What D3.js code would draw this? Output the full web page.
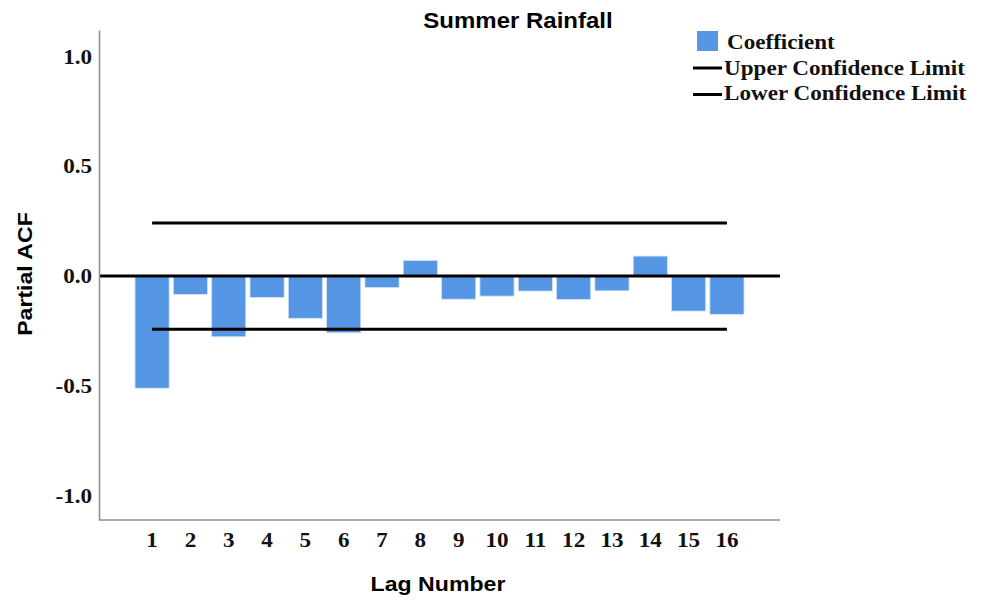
<!DOCTYPE html>
<html>
<head>
<meta charset="utf-8">
<script src="https://cdn.jsdelivr.net/npm/d3@7"></script>
<style>
  html, body { margin: 0; padding: 0; background: #fff; }
  svg { display: block; }
</style>
</head>
<body>
<svg id="chart" width="988" height="600"></svg>
<script>
// Partial autocorrelation of summer rainfall, lags 1-16
const lags = [1, 2, 3, 4, 5, 6, 7, 8, 9, 10, 11, 12, 13, 14, 15, 16];
const pacf = [-0.51, -0.083, -0.276, -0.097, -0.192, -0.258, -0.052, 0.071,
              -0.105, -0.091, -0.068, -0.106, -0.067, 0.091, -0.159, -0.174];
const upperLimit = 0.242;
const lowerLimit = -0.242;
const yTicks = [-1.0, -0.5, 0.0, 0.5, 1.0];
const legendItems = ["Coefficient", "Upper Confidence Limit", "Lower Confidence Limit"];

const svg = d3.select("#chart");
const plotLeft = 99, plotRight = 780, plotTop = 30, plotBottom = 520;
const barColor = "#5596e5";
const serif = "'Liberation Serif', 'Times New Roman', serif";
const sans = "'Liberation Sans', Arial, sans-serif";
const widen = 1.1; // text is set slightly wide

// stretch each text horizontally by the given factor
function stretch(sel, k) {
  sel.each(function () {
    const w = this.getComputedTextLength();
    d3.select(this).attr("textLength", w * k).attr("lengthAdjust", "spacingAndGlyphs");
  });
}

const x = d3.scaleBand()
  .domain(lags)
  .range([plotLeft, plotRight])
  .paddingInner(0.11)
  .paddingOuter(0.94);

const y = d3.scaleLinear()
  .domain([-1.11, 1.12])
  .range([plotBottom, plotTop]);

// Bars
svg.append("g")
  .selectAll("rect")
  .data(lags.map((l, i) => ({ lag: l, v: pacf[i] })))
  .join("rect")
  .attr("x", d => x(d.lag))
  .attr("width", x.bandwidth())
  .attr("y", d => y(Math.max(0, d.v)))
  .attr("height", d => Math.abs(y(d.v) - y(0)))
  .attr("fill", barColor)
  .attr("stroke", "#cfe0f7")
  .attr("stroke-width", 0.8);

// Confidence limits span lag 1 to lag 16
const cx = l => x(l) + x.bandwidth() / 2;
[upperLimit, lowerLimit].forEach(v => {
  svg.append("line")
    .attr("x1", cx(lags[0])).attr("x2", cx(lags[lags.length - 1]))
    .attr("y1", y(v)).attr("y2", y(v))
    .attr("stroke", "#000").attr("stroke-width", 3);
});

// Zero reference line
svg.append("line")
  .attr("x1", plotLeft).attr("x2", plotRight)
  .attr("y1", y(0)).attr("y2", y(0))
  .attr("stroke", "#000").attr("stroke-width", 3);

// Axes
const fmt = d => d3.format(".1f")(d).replace("\u2212", "-");
const yAxis = d3.axisLeft(y).tickValues(yTicks).tickFormat(fmt).tickSize(0).tickPadding(7);
const gy = svg.append("g").attr("transform", `translate(${plotLeft},0)`).call(yAxis);
gy.select(".domain").attr("stroke", "#8c8c8c").attr("stroke-width", 1.5);
gy.selectAll("text").attr("font-family", serif).attr("font-weight", "bold")
  .attr("font-size", 21).attr("fill", "#111").call(stretch, widen);

const xAxis = d3.axisBottom(x).tickSize(0).tickPadding(12);
const gx = svg.append("g").attr("transform", `translate(0,${plotBottom})`).call(xAxis);
gx.select(".domain").attr("stroke", "#8c8c8c").attr("stroke-width", 1.5)
  .attr("d", `M${plotLeft},0H${plotRight}`);
gx.selectAll("text").attr("font-family", serif).attr("font-weight", "bold")
  .attr("font-size", 21).attr("fill", "#111").call(stretch, widen);

// Titles
svg.append("text")
  .attr("x", 518).attr("y", 28)
  .attr("text-anchor", "middle")
  .attr("font-family", sans).attr("font-weight", "bold").attr("font-size", 22)
  .text("Summer Rainfall").call(stretch, 1.09);

svg.append("text")
  .attr("x", 438).attr("y", 591)
  .attr("text-anchor", "middle")
  .attr("font-family", sans).attr("font-weight", "bold").attr("font-size", 21)
  .text("Lag Number").call(stretch, widen);

svg.append("text")
  .attr("transform", `translate(32,274) rotate(-90)`)
  .attr("text-anchor", "middle")
  .attr("font-family", sans).attr("font-weight", "bold").attr("font-size", 21)
  .text("Partial ACF").call(stretch, widen);

// Legend
const legend = svg.append("g");
legend.append("rect")
  .attr("x", 697).attr("y", 31).attr("width", 21).attr("height", 20)
  .attr("fill", barColor);
[68, 94.5].forEach(ly => {
  legend.append("line")
    .attr("x1", 693).attr("x2", 722).attr("y1", ly).attr("y2", ly)
    .attr("stroke", "#000").attr("stroke-width", 3);
});
legend.selectAll("text.item")
  .data(legendItems)
  .join("text")
  .attr("class", "item")
  .attr("x", (d, i) => i === 0 ? 727 : 724)
  .attr("y", (d, i) => [48.5, 75, 100][i])
  .attr("font-family", serif).attr("font-weight", "bold").attr("font-size", 21)
  .attr("fill", "#111")
  .text(d => d)
  .call(stretch, widen);
</script>
</body>
</html>
